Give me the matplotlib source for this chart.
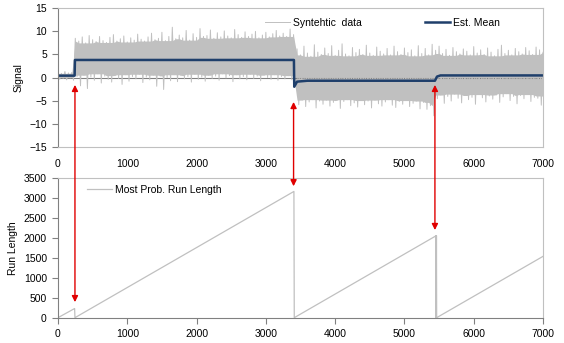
import numpy as np
import matplotlib
matplotlib.use("Agg")
import matplotlib.pyplot as plt
from matplotlib.patches import ConnectionPatch

plt.rcParams['font.family'] = ['Liberation Sans', 'DejaVu Sans']
plt.rcParams['font.size'] = 7.5

# --- data ---
# noise envelope, one high/low pair every 50 samples (0..7000)
noise_step = 50
seg1_hi = [1.2, 0.9, 1.3, 1.0, 1.1]
seg1_lo = [-0.4, -0.2, -0.5, -0.1, -0.6]
seg2_hi = [8.5, 7.9, 8.8, 7.5, 9.1, 8.2, 7.8, 8.9, 8.0, 7.6,
           8.7, 9.3, 7.9, 8.4, 9.0, 7.7, 8.6, 8.1, 9.4, 8.3,
           7.9, 8.8, 9.6, 8.2, 8.5, 9.8, 8.0, 8.9, 10.9, 8.4,
           9.2, 8.6, 10.2, 8.1, 9.5, 8.7, 10.6, 8.9, 9.1, 10.3,
           8.5, 9.7, 8.8, 10.1, 9.0, 8.6, 10.4, 9.3, 8.7, 9.9,
           8.9, 9.4, 10.0, 8.6, 9.2, 9.8, 8.8, 9.5, 10.2, 9.0,
           9.6, 8.9, 10.5, 9.3]
seg2_lo = [0.2, -1.8, 0.5, -2.4, 0.1, -0.6, 0.8, -1.2, 0.3, -0.4,
           -1.0, 0.4, -0.2, -1.5, 0.6, -0.8, 0.2, -0.3, 0.7, -1.1,
           0.1, -0.5, 0.5, -1.9, 0.3, -2.6, 0.0, -0.7, 0.6, -0.9,
           0.4, -0.3, 0.2, -1.0, 0.7, -0.4, 0.1, -0.8, 0.5, -0.2,
           0.3, -0.6, 0.8, -0.1, 0.4, -0.9, 0.6, -0.3, 0.2, -0.5,
           0.7, -0.2, 0.3, -0.7, 0.5, 0.0, -0.4, 0.6, -0.6, 0.2,
           -0.3, 0.4, -0.5, 0.1]
seg3_hi = [6.2, 4.9, 6.8, 5.3, 4.6, 7.1, 5.5, 5.0, 6.4, 5.2,
           6.9, 4.8, 5.9, 7.3, 5.1, 4.7, 6.5, 5.4, 6.1, 5.0,
           7.0, 5.3, 4.8, 6.6, 5.7, 5.1, 6.3, 4.9, 6.8, 5.6,
           5.0, 6.4, 5.4, 6.0, 4.7, 6.9, 5.2, 6.3, 4.9, 7.2]
seg3_lo = [-5.9, -4.9, -6.3, -5.3, -4.8, -6.6, -5.1, -5.8, -4.9, -6.2,
           -5.4, -5.0, -6.7, -5.2, -4.8, -6.1, -5.5, -6.4, -5.0, -5.9,
           -5.1, -6.6, -4.9, -5.7, -6.2, -5.3, -4.8, -6.0, -6.5, -5.2,
           -5.8, -5.0, -6.3, -5.6, -5.1, -6.8, -5.4, -6.9, -6.1, -8.3]
seg4_hi = [5.9, 6.8, 5.2, 6.1, 4.8, 6.5, 5.6, 5.1, 6.2, 5.7,
           4.9, 6.7, 5.3, 6.0, 5.0, 6.4, 5.5, 4.7, 6.1, 7.0,
           5.2, 5.9, 4.9, 6.3, 5.6, 5.1, 6.5, 5.8, 5.0, 6.6,
           6.0, 5.5]
seg4_lo = [-4.6, -3.8, -5.6, -4.1, -5.1, -3.6, -4.5, -5.5, -3.9, -4.8,
           -4.3, -5.8, -3.7, -4.4, -5.3, -4.0, -4.7, -3.8, -5.4, -4.2,
           -3.5, -5.0, -4.1, -5.7, -3.9, -4.6, -3.7, -5.2, -4.3, -4.5,
           -6.0, -4.0]

# estimated mean
mean_x = [0, 240, 245, 3405, 3410, 3450, 3600, 5440, 5470, 5520, 7000]
mean_y = [0.4, 0.4, 3.8, 3.8, -2.0, -0.9, -0.7, -0.7, 0.2, 0.45, 0.45]

# most probable run length
rl_x = [0, 240, 245, 3405, 3410, 5450, 5452, 5456, 5458, 5462, 5465, 7000]
rl_y = [0, 230, 0, 3170, 0, 2050, 0, 2055, 0, 2060, 0, 1540]

# change points marked by arrows: (x, signal at tip, run length at tip)
arrow_x = [245, 3400, 5440]
arrow_top = [-1.6, -5.3, -1.6]
arrow_bot = [390, 3300, 2200]


def core(vals, upper, k=2):
    # dense part of the band: neighbour-wise min of highs / max of lows
    v = np.array(vals)
    p = np.pad(v, k, mode='edge')
    w = np.vstack([p[i:len(p) - 2 * k + i] for i in range(2 * k + 1)])
    return w.min(axis=0) if upper else w.max(axis=0)


his = [seg1_hi, seg2_hi, seg3_hi, seg4_hi]
los = [seg1_lo, seg2_lo, seg3_lo, seg4_lo]
noise_hi = np.concatenate([np.array(h) for h in his])
noise_lo = np.concatenate([np.array(l) for l in los])
core_hi = np.concatenate([core(h, True) for h in his])
core_lo = np.concatenate([core(l, False) for l in los])

xs = np.arange(len(noise_hi)) * noise_step
nx = np.empty(2 * len(xs))
ny = np.empty(2 * len(xs))
nx[0::2] = xs
nx[1::2] = xs + noise_step / 2
ny[0::2] = noise_hi
ny[1::2] = noise_lo
nx = np.clip(nx, 0, 7000)

silver = '#c0c0c0'
navy = '#1f3f6b'
dark = '#808080'

fig = plt.figure(figsize=(5.64, 3.43), dpi=100)
ax1 = fig.add_axes([0.1028, 0.5723, 0.86, 0.4035])
ax2 = fig.add_axes([0.1028, 0.0738, 0.86, 0.4064])

# top panel
ax1.fill_between(xs, core_hi, core_lo, color=silver, lw=0)
ax1.plot(nx, ny, color=silver, lw=0.7, label='Syntehtic  data')
ax1.plot(mean_x, mean_y, color=navy, lw=1.8, label='Est. Mean')
ax1.axhline(0, color=dark, lw=0.8, zorder=1)
ax1.set_xlim(0, 7000)
ax1.set_ylim(-15, 15)
ax1.set_yticks(range(-15, 16, 5))
ax1.set_xticks(range(0, 7001, 1000))
ax1.set_ylabel('Signal', labelpad=4)
ax1.tick_params(axis='x', length=0, pad=9)
ax1.tick_params(axis='y', length=4, color=dark, pad=4)
for s in ['top', 'right', 'bottom']:
    ax1.spines[s].set_color(silver)
ax1.spines['left'].set_color(dark)
ax1.legend(loc='upper right', bbox_to_anchor=(0.93, 1.0), ncol=2, frameon=False,
           handlelength=2.4, columnspacing=6, handletextpad=0.3)

# bottom panel
ax2.plot(rl_x, rl_y, color=silver, lw=0.9, label='Most Prob. Run Length')
ax2.set_xlim(0, 7000)
ax2.set_ylim(0, 3500)
ax2.set_yticks(range(0, 3501, 500))
ax2.set_xticks(range(0, 7001, 1000))
ax2.set_ylabel('Run Length', labelpad=4)
ax2.tick_params(length=4, color=dark, pad=4)
for s in ['top', 'right']:
    ax2.spines[s].set_color(silver)
ax2.spines['left'].set_color(dark)
ax2.spines['bottom'].set_color(dark)
ax2.legend(loc='upper left', bbox_to_anchor=(0.04, 1.02), frameon=False,
           handlelength=2.4, handletextpad=0.3)

# red arrows between panels
for x, yt, yb in zip(arrow_x, arrow_top, arrow_bot):
    con = ConnectionPatch(xyA=(x, yt), coordsA=ax1.transData,
                          xyB=(x, yb), coordsB=ax2.transData,
                          arrowstyle='<|-|>', color='#e00000', lw=1,
                          mutation_scale=9, shrinkA=0, shrinkB=0)
    fig.add_artist(con)

fig.savefig('out.png', dpi=100)
